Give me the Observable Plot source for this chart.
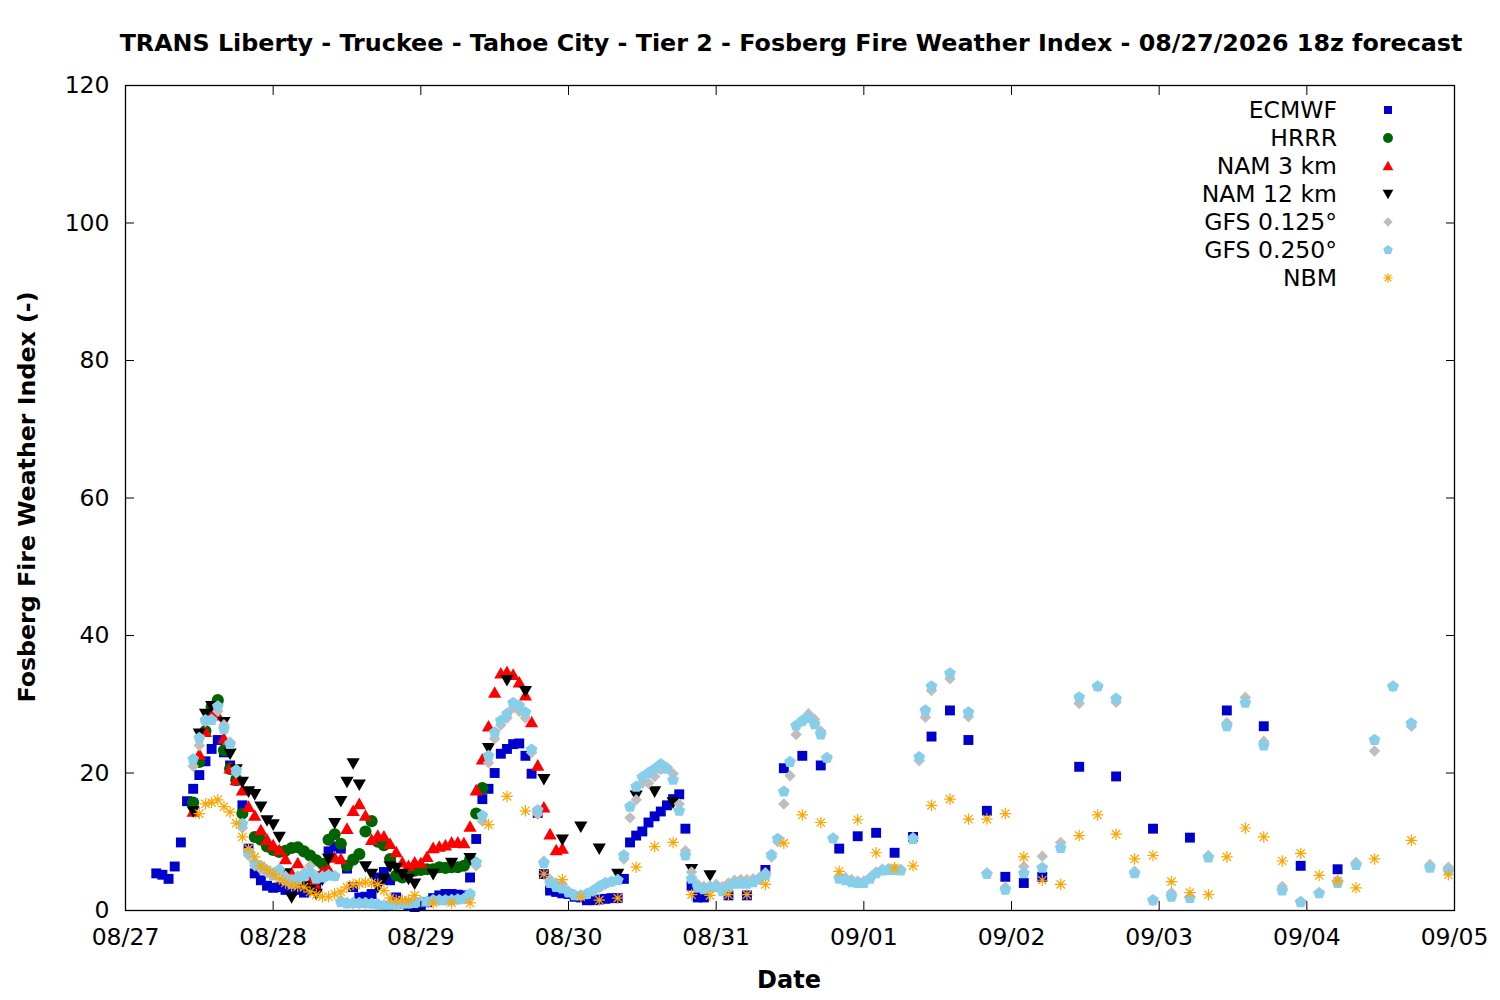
<!DOCTYPE html>
<html><head><meta charset="utf-8">
<script src="https://cdn.jsdelivr.net/npm/d3@7"></script>
<script src="https://cdn.jsdelivr.net/npm/@observablehq/plot@0.6"></script>
<style>
body{margin:0;background:#fff;font-family:"DejaVu Sans",sans-serif;}
#wrap{position:relative;width:1500px;height:1000px;overflow:hidden;}
.ov{position:absolute;white-space:nowrap;color:#000;}
#title{left:91px;width:1400px;top:28px;text-align:center;font-weight:bold;font-size:23.8px;line-height:30px;}
#xlab{left:689px;width:200px;top:965px;text-align:center;font-weight:bold;font-size:24px;line-height:30px;}
#ylab{left:27px;top:497px;transform:translate(-50%,-50%) rotate(-90deg);font-weight:bold;font-size:23.7px;line-height:30px;}
.lt{right:163px;font-size:23.5px;line-height:28px;text-align:right;}
</style></head>
<body><div id="wrap">
<div id="title" class="ov">TRANS Liberty - Truckee - Tahoe City - Tier 2 - Fosberg Fire Weather Index - 08/27/2026 18z forecast</div>
<div id="xlab" class="ov">Date</div>
<div id="ylab" class="ov">Fosberg Fire Weather Index (-)</div>
</div>
<script>
// hours since 08/27 00:00, value
const ecmwf = [[5,5.4],[6,5.2],[7,4.6],[8,6.4],[9,9.9],[10,15.9],[11,17.7],[12,19.7],[13,21.7],[14,23.5],[15,24.8],[16,23.0],[17,21.1],[18,18.9],[19,15.3],[20,9.0],[21,5.4],[22,4.4],[23,3.6],[24,3.3],[25,3.4],[26,3.0],[27,2.8],[28,3.0],[29,2.6],[30,3.1],[31,3.5],[32,5.0],[33,8.6],[34,9.3],[35,9.0],[36,6.1],[37,3.4],[38,1.9],[39,2.0],[40,2.4],[41,4.8],[42,5.6],[43,4.4],[44,1.9],[45,1.0],[46,0.8],[47,0.5],[48,0.7],[49,1.2],[50,1.8],[51,2.2],[52,2.4],[53,2.4],[54,2.3],[55,2.2],[56,4.8],[57,10.4],[58,16.2],[59,17.7],[60,20.0],[61,22.8],[62,23.5],[63,24.2],[64,24.3],[65,22.5],[66,19.9],[67,14.2],[68,5.3],[69,2.9],[70,2.7],[71,2.5],[72,2.4],[73,2.0],[74,1.9],[75,1.5],[76,1.5],[77,1.6],[78,1.7],[79,1.8],[80,1.8],[81,4.6],[82,9.9],[83,10.9],[84,11.5],[85,12.8],[86,13.7],[87,14.4],[88,15.3],[89,16.2],[90,16.9],[91,11.9],[92,3.6],[93,1.9],[94,1.9],[98,2.2],[101,2.2],[104,5.9],[107,20.7],[110,22.5],[113,21.1],[116,9.0],[119,10.8],[122,11.3],[125,8.4],[128,10.7],[131,25.3],[134,29.1],[137,24.8],[140,14.5],[143,4.9],[146,4.0],[149,4.9],[155,20.9],[161,19.5],[167,11.9],[173,10.6],[179,29.1],[185,26.8],[191,6.5],[197,6.0]];
const hrrr = [[11,15.7],[12,21.6],[13,26.1],[14,29.6],[15,30.6],[16,23.3],[17,20.6],[18,19.0],[19,14.1],[21,10.7],[22,10.3],[23,9.3],[24,8.8],[25,8.5],[26,8.7],[27,9.1],[28,9.2],[29,8.6],[30,8.0],[31,7.3],[32,6.8],[33,10.3],[34,11.1],[35,9.7],[36,6.5],[37,7.4],[38,8.2],[39,11.5],[40,13.0],[41,10.0],[42,9.5],[43,7.5],[44,5.1],[45,4.8],[46,5.6],[47,5.8],[48,5.9],[49,6.0],[50,6.0],[51,6.3],[52,6.2],[53,6.3],[54,6.3],[55,6.5],[56,7.4],[57,14.1],[58,17.8]];
const nam3 = [[11,14.4],[12,22.7],[13,26.0],[14,29.1],[15,28.4],[16,25.0],[17,20.7],[18,19.0],[19,17.5],[20,15.1],[21,13.8],[22,11.7],[23,10.3],[24,9.5],[25,8.8],[26,7.5],[27,5.4],[28,6.9],[29,5.5],[30,4.0],[31,3.5],[32,5.7],[33,6.0],[34,7.7],[35,7.5],[36,11.9],[37,14.5],[38,15.5],[39,13.8],[40,10.3],[41,10.9],[42,10.8],[43,9.7],[44,8.5],[45,7.0],[46,6.5],[47,7.0],[48,6.9],[49,7.8],[50,9.1],[51,9.3],[52,9.5],[53,9.9],[54,9.9],[55,9.8],[56,12.2],[57,17.5],[58,22.0],[59,26.8],[60,31.7],[61,34.5],[62,34.7],[63,34.3],[64,33.2],[65,31.3],[66,27.4],[67,21.1],[68,15.0],[69,11.1],[70,8.8],[71,9.0]];
const nam12 = [[11,14.4],[12,25.7],[13,28.6],[14,29.7],[16,27.4],[17,22.8],[18,20.5],[19,18.7],[20,17.3],[21,16.9],[22,15.1],[23,13.1],[24,12.5],[25,10.7],[26,5.4],[27,1.9],[28,4.0],[29,3.5],[30,3.0],[31,2.4],[32,4.5],[33,7.5],[34,12.7],[35,15.9],[36,18.7],[37,21.4],[38,18.3],[39,6.4],[40,5.3],[41,3.4],[42,4.6],[43,6.4],[44,6.2],[45,5.3],[46,4.6],[47,3.9],[50,5.3],[53,6.9],[56,7.6],[59,23.6],[62,33.5],[65,31.9],[68,19.1],[71,10.3],[74,12.2],[77,9.0],[80,5.3],[83,16.7],[86,17.3],[89,15.7],[92,6.0],[95,5.1]];
const gfs0125 = [[11,21.0],[12,24.0],[13,27.5],[14,27.8],[15,29.0],[16,27.0],[17,24.5],[18,20.0],[19,12.0],[20,8.0],[21,6.5],[22,6.0],[23,5.5],[24,5.5],[25,6.0],[26,5.0],[27,4.5],[28,5.0],[29,5.5],[30,6.5],[31,5.0],[32,5.0],[33,5.2],[34,5.0],[35,1.5],[36,1.2],[37,1.0],[38,1.0],[39,1.0],[40,1.0],[41,0.9],[42,0.8],[43,0.8],[44,0.9],[45,1.0],[46,1.1],[47,1.2],[48,1.2],[49,1.3],[50,1.4],[51,1.5],[52,1.5],[53,1.6],[54,1.6],[55,1.7],[56,2.2],[57,6.5],[58,13.0],[59,21.5],[60,25.0],[61,27.0],[62,28.0],[63,29.5],[64,29.0],[65,28.0],[66,23.0],[67,14.0],[68,7.2],[69,4.5],[70,4.0],[71,3.8],[72,2.8],[73,2.3],[74,2.2],[75,2.4],[76,2.8],[77,3.3],[78,3.8],[79,4.2],[80,4.5],[81,7.5],[82,13.5],[83,16.1],[84,18.5],[85,18.5],[86,19.5],[87,20.5],[88,20.8],[89,19.9],[90,15.5],[91,8.7],[92,5.6],[93,3.8],[94,3.5],[95,3.6],[96,3.8],[97,3.5],[98,4.0],[99,4.4],[100,4.5],[101,4.5],[102,4.6],[103,4.8],[104,5.5],[105,7.8],[106,10.0],[107,15.5],[108,19.6],[109,25.6],[110,27.5],[111,28.6],[112,27.8],[113,26.1],[114,22.2],[115,10.5],[116,5.0],[117,4.8],[118,4.5],[119,4.3],[120,4.3],[121,4.8],[122,5.6],[123,6.0],[124,6.1],[125,6.1],[126,6.0],[128,10.6],[129,21.8],[130,28.1],[131,32.0],[134,33.7],[137,28.2],[140,5.5],[143,3.4],[146,6.4],[149,7.9],[152,9.9],[155,30.1],[158,32.6],[161,30.3],[164,5.7],[167,1.5],[170,2.6],[173,1.9],[176,8.0],[179,27.3],[182,31.0],[185,24.6],[188,3.5],[191,1.3],[194,2.6],[197,4.4],[200,7.0],[203,23.2],[206,32.6],[209,26.8],[212,6.7],[215,6.3]];
const gfs0250 = [[11,22.0],[12,25.1],[13,27.7],[14,27.7],[15,29.7],[16,26.4],[17,24.2],[18,20.4],[19,12.6],[20,8.5],[21,6.9],[22,6.5],[23,5.8],[24,5.1],[25,5.9],[26,4.4],[27,3.9],[28,4.5],[29,5.0],[30,5.6],[31,4.6],[32,4.8],[33,5.1],[34,5.0],[35,1.2],[36,1.0],[37,1.1],[38,1.1],[39,1.1],[40,1.0],[41,0.9],[42,0.6],[43,0.8],[44,0.9],[45,1.0],[46,1.0],[47,1.1],[48,1.3],[49,1.3],[50,1.5],[51,1.5],[52,1.5],[53,1.5],[54,1.6],[55,1.7],[56,2.4],[57,7.0],[58,13.8],[59,22.5],[60,25.9],[61,27.6],[62,28.6],[63,30.2],[64,29.8],[65,28.8],[66,23.4],[67,14.6],[68,6.9],[69,4.0],[70,3.4],[71,3.2],[72,2.6],[73,2.2],[74,2.2],[75,2.4],[76,2.9],[77,3.5],[78,4.0],[79,4.2],[80,4.4],[81,8.0],[82,15.1],[83,18.0],[84,19.4],[85,20.0],[86,20.6],[87,21.3],[88,20.6],[89,19.0],[90,14.5],[91,8.0],[92,4.6],[93,3.4],[94,3.1],[95,3.3],[96,3.4],[97,2.8],[98,3.4],[99,3.9],[100,3.9],[101,3.9],[102,4.1],[103,4.5],[104,5.1],[105,8.1],[106,10.4],[107,17.3],[108,21.6],[109,26.9],[110,27.6],[111,28.0],[112,27.1],[113,25.6],[114,22.2],[115,10.5],[116,4.6],[117,4.4],[118,4.1],[119,4.0],[120,4.0],[121,4.6],[122,5.4],[123,5.8],[124,5.9],[125,5.9],[126,5.8],[128,10.4],[129,22.3],[130,29.1],[131,32.6],[134,34.5],[137,28.8],[140,5.3],[143,3.0],[146,5.4],[149,6.2],[152,9.1],[155,31.0],[158,32.6],[161,30.8],[164,5.4],[167,1.5],[170,2.0],[173,1.8],[176,7.7],[179,26.8],[182,30.2],[185,24.0],[188,2.9],[191,1.2],[194,2.5],[197,4.0],[200,6.6],[203,24.8],[206,32.6],[209,27.2],[212,6.2],[215,5.8]];
const nbm = [[12,14.1],[13,15.5],[14,15.7],[15,16.1],[16,15.1],[17,14.3],[18,12.7],[19,10.7],[20,9.0],[21,7.8],[22,6.5],[23,5.9],[24,5.3],[25,4.6],[26,4.0],[27,3.6],[28,3.5],[29,3.4],[30,2.7],[31,2.3],[32,2.0],[33,2.0],[34,2.4],[35,2.7],[36,3.4],[37,3.8],[38,3.9],[39,4.1],[40,4.0],[41,3.8],[42,2.9],[43,1.8],[44,1.5],[45,1.5],[46,1.5],[47,2.2],[50,1.1],[53,1.1],[56,1.1],[59,12.5],[62,16.6],[65,14.5],[68,5.3],[71,4.5],[74,2.0],[77,1.5],[80,1.8],[83,6.3],[86,9.3],[89,9.9],[92,2.3],[95,2.2],[98,2.3],[101,2.3],[104,3.8],[107,9.8],[110,13.9],[113,12.8],[116,5.7],[119,13.2],[122,8.4],[125,6.2],[128,6.5],[131,15.3],[134,16.2],[137,13.3],[140,13.3],[143,14.1],[146,7.8],[149,4.4],[152,3.8],[155,10.9],[158,13.9],[161,11.1],[164,7.5],[167,8.0],[170,4.2],[173,2.6],[176,2.3],[179,7.8],[182,12.0],[185,10.7],[188,7.2],[191,8.3],[194,5.1],[197,4.3],[200,3.3],[203,7.5],[209,10.2],[215,5.2]];

const seriesNames = ["ECMWF","HRRR","NAM 3 km","NAM 12 km","GFS 0.125°","GFS 0.250°","NBM"];
const seriesColors = ["#0000cc","#006400","#ff0000","#000000","#bebebe","#87ceeb","#ffa500"];
const xTickLabels = ["08/27","08/28","08/29","08/30","08/31","09/01","09/02","09/03","09/04","09/05"];
const yTicks = [0,20,40,60,80,100,120];

const t0 = Date.UTC(2026,7,27);
const toDate = h => new Date(t0 + h*3600e3);
const dayTicks = xTickLabels.map((_,i)=>toDate(24*i));

const rad = s => Math.sqrt(s/Math.PI);
const symSquare = {draw(c,s){const r=rad(s)*0.9;c.rect(-r,-r,2*r,2*r);}};
const symCircle = {draw(c,s){const r=rad(s)*1.1;c.moveTo(r,0);c.arc(0,0,r,0,2*Math.PI);}};
const symUp = {draw(c,s){const r=rad(s);c.moveTo(0,-1.15*r);c.lineTo(1.2*r,0.95*r);c.lineTo(-1.2*r,0.95*r);c.closePath();}};
const symDown = {draw(c,s){const r=rad(s);c.moveTo(0,1.15*r);c.lineTo(1.2*r,-0.95*r);c.lineTo(-1.2*r,-0.95*r);c.closePath();}};
const symDiamond = {draw(c,s){const r=rad(s)*1.05;c.moveTo(0,-r);c.lineTo(r,0);c.lineTo(0,r);c.lineTo(-r,0);c.closePath();}};
const symPent = {draw(c,s){const r=rad(s)*1.12;for(let i=0;i<5;i++){const a=-Math.PI/2+i*2*Math.PI/5;const x=r*Math.cos(a),y=r*Math.sin(a);i?c.lineTo(x,y):c.moveTo(x,y);}c.closePath();}};
const symAst = {draw(c,s){const r=rad(s)*1.05,d=r*0.72;c.moveTo(-r,0);c.lineTo(r,0);c.moveTo(0,-r);c.lineTo(0,r);c.moveTo(-d,-d);c.lineTo(d,d);c.moveTo(-d,d);c.lineTo(d,-d);}};

const seriesData = [ecmwf,hrrr,nam3,nam12,gfs0125,gfs0250,nbm];
const seriesSyms = [symSquare,symCircle,symUp,symDown,symDiamond,symPent,symAst];

const dotMarks = seriesData.map((data,i)=>{
  const stroked = i===6;
  return Plot.dot(data,{x:d=>toDate(d[0]),y:d=>d[1],symbol:seriesSyms[i],r:5.5,
    fill: stroked?"none":seriesColors[i], stroke: stroked?seriesColors[i]:"none", strokeWidth:1.2});
});

const fmt = d => xTickLabels[Math.round((d - t0)/(864e5))];
const blank = () => "";
const plot = Plot.plot({
  width:1500,height:1000,
  marginLeft:125,marginRight:46,marginTop:85,marginBottom:90,
  style:{fontFamily:"DejaVu Sans",fontSize:"23.5px",color:"black",background:"white",overflow:"visible"},
  x:{type:"utc",domain:[dayTicks[0],dayTicks[dayTicks.length-1]]},
  y:{domain:[0,120]},
  marks:[
    ...dotMarks,
    Plot.frame({stroke:"black",strokeWidth:1.3}),
    Plot.axisX({ticks:dayTicks,tickSize:0,tickPadding:18,tickFormat:fmt,label:null}),
    Plot.axisX({ticks:dayTicks,tickSize:-9,tickFormat:blank,label:null}),
    Plot.axisX({anchor:"top",ticks:dayTicks,tickSize:-9,tickFormat:blank,label:null}),
    Plot.axisY({ticks:yTicks,tickSize:0,tickPadding:16,label:null}),
    Plot.axisY({ticks:yTicks,tickSize:-9,tickFormat:blank,label:null}),
    Plot.axisY({anchor:"right",ticks:yTicks,tickSize:-9,tickFormat:blank,label:null})
  ]
});
const wrap = document.getElementById("wrap");
wrap.insertBefore(plot, wrap.firstChild);

// legend
seriesNames.forEach((name,i)=>{
  const yc = 110 + 28*i;
  const t = document.createElement("div");
  t.className = "ov lt"; t.style.top = (yc-14)+"px"; t.textContent = name;
  wrap.appendChild(t);
  const svg = d3.create("svg").attr("width",18).attr("height",18)
    .style("position","absolute").style("left",(1388-9)+"px").style("top",(yc-9)+"px");
  const p = d3.path(); seriesSyms[i].draw(p, Math.PI*20);
  const stroked = i===6;
  svg.append("path").attr("transform","translate(9,9)").attr("d",p.toString())
    .attr("fill",stroked?"none":seriesColors[i]).attr("stroke",stroked?seriesColors[i]:"none").attr("stroke-width",1.2);
  wrap.appendChild(svg.node());
});
</script>
</body></html>
